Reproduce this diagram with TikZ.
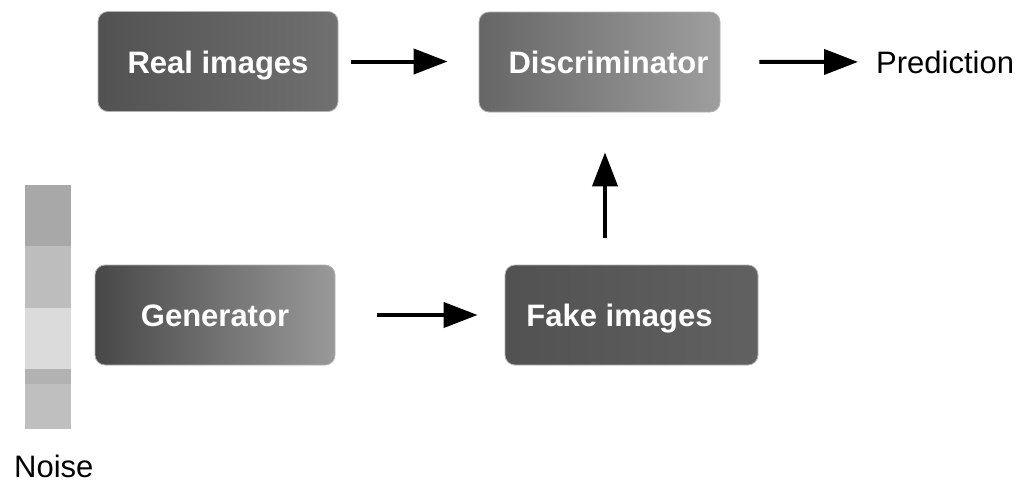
\documentclass[tikz,border=0pt]{standalone}
\usepackage{fontspec}
\setmainfont{Liberation Sans}
\usetikzlibrary{arrows.meta}
\begin{document}
\begin{tikzpicture}[x=1pt,y=-1pt,
  gbox/.style={rounded corners=10pt, draw=black!30, line width=0.8pt,
    minimum height=100pt, inner sep=0pt, text=white,
    text height=23pt, text depth=0pt,
    font=\bfseries\fontsize{31}{36}\selectfont},
  arr/.style={-{Triangle[length=34pt,width=25pt]}, line width=4pt, black},
  lbl/.style={inner sep=0pt, font=\fontsize{31}{36}\selectfont, text=black}]
\useasboundingbox (0,0) rectangle (1021,483);
\fill[white] (0,0) rectangle (1021,483);

\node[gbox, minimum width=240pt, left color=black!68, right color=black!56] (real) at (218,61.5) {Real images};
\node[gbox, minimum width=241pt, left color=black!60, right color=black!38] (disc) at (599.5,62) {\hspace*{18pt}Discriminator};
\node[gbox, minimum width=240pt, left color=black!72, right color=black!40] (gen) at (215,315) {Generator};
\node[gbox, minimum width=253pt, left color=black!68, right color=black!62] (fake) at (631.5,315) {Fake images\hspace*{24pt}};

\node[lbl, anchor=base west] (pred) at (876,73) {Prediction};
\node[lbl, anchor=base west] (noise) at (14,477) {Noise};

% noise bar
\fill[black!34] (25,185) rectangle (71,246);
\fill[black!26] (25,246) rectangle (71,308);
\fill[black!14] (25,308) rectangle (71,369);
\fill[black!30] (25,369) rectangle (71,384);
\fill[black!25] (25,384) rectangle (71,429);

\draw[arr, shorten <=13pt, shorten >=31pt] (real.east) -- (real.east -| disc.west);
\draw[arr, shorten <=39pt, shorten >=18pt] (disc.east) -- (pred.west);
\draw[arr, shorten <=42pt, shorten >=27pt] (gen.east) -- (gen.east -| fake.west);
\draw[arr, shorten <=27pt, shorten >=40pt] ([xshift=-26.5pt]fake.north) -- ([xshift=5.5pt]disc.south);
\end{tikzpicture}
\end{document}
